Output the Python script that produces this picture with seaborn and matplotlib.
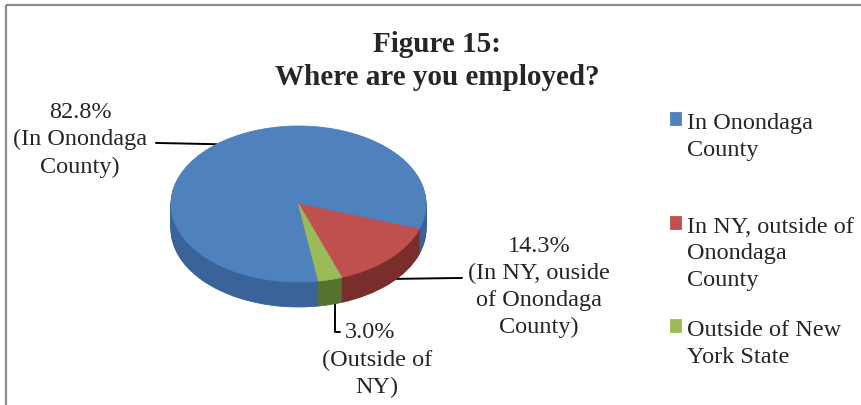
import numpy as np
import matplotlib
matplotlib.use("Agg")
import matplotlib.pyplot as plt
import seaborn as sns
from matplotlib.patches import Rectangle

sns.set_theme(style="white")
plt.rcParams['font.family'] = ['Liberation Serif', 'DejaVu Serif']

# data
categories = ['In Onondaga\nCounty\n', 'In NY, outside of\nOnondaga\nCounty', 'Outside of New\nYork State']
shares = [82.8, 14.3, 3.0]
pct_labels = ['82.8%', '14.3%', '3.0%']
slice_notes = ['(In Onondaga\nCounty)', '(In NY, ouside\nof Onondaga\nCounty)', '(Outside of\nNY)']
top_colors = ['#4f81bd', '#c0504d', '#9bbb59']
side_colors = ['#3a639a', '#7a2e2c', '#56732e']

W, H = 862, 406
fig = plt.figure(figsize=(W / 100, H / 100), dpi=100)

# full-figure axes in pixel units for frame and text placement
ax_bg = fig.add_axes([0, 0, 1, 1])
ax_bg.set_xlim(0, W)
ax_bg.set_ylim(H, 0)
ax_bg.axis('off')
ax_bg.add_patch(Rectangle((6, 6), 1000, 600, fill=False, ec='#8c8c8c', lw=1.6))

# pie axes: ellipse centre / radii in pixels
cx, cy, rx, ry = 298.5, 205, 127.5, 78
span = 1.5
pie_ax = fig.add_axes([(cx - span * rx) / W, (H - cy - span * ry) / H,
                       2 * span * rx / W, 2 * span * ry / H])
depth = 25 / ry
start = -81

# side of the 3D pie: stacked darker layers
for z in np.linspace(depth, 0, 30)[:-1]:
    w, _ = pie_ax.pie(shares, colors=side_colors, startangle=start, counterclock=False,
                      center=(0, -z), radius=1, wedgeprops=dict(linewidth=0.6))
    for p in w:
        p.set_edgecolor(p.get_facecolor())

top, _ = pie_ax.pie(shares, colors=top_colors, startangle=start, counterclock=False,
                    center=(0, 0), radius=1, wedgeprops=dict(linewidth=0.6))
for p in top:
    p.set_edgecolor(p.get_facecolor())

pie_ax.set_aspect('auto')
pie_ax.set_xlim(-span, span)
pie_ax.set_ylim(-span, span)
pie_ax.axis('off')

# title
ax_bg.text(437, 61, 'Figure 15:\nWhere are you employed?', ha='center', va='center',
           fontsize=21, fontweight='bold', linespacing=1.25)

# anchors at slice mid-angles
bounds = np.cumsum([0] + shares) / 100 * 360
mids = np.radians(start - (bounds[:-1] + bounds[1:]) / 2)
line_kw = dict(arrowstyle='-', color='black', lw=1.4, shrinkB=0)
ls = 1.36

# 82.8%
ax_bg.annotate(pct_labels[0] + '\n' + slice_notes[0],
               xy=(np.cos(mids[0]), np.sin(mids[0])), xycoords=pie_ax.transData,
               xytext=(80, 140), textcoords=ax_bg.transData,
               ha='center', va='center', fontsize=17.5, linespacing=ls,
               arrowprops=dict(**line_kw, shrinkA=4, relpos=(1, 0.45)))

# 14.3%
ax_bg.annotate(pct_labels[1] + '\n' + slice_notes[1],
               xy=(np.cos(mids[1]), np.sin(mids[1]) - 0.8 * depth), xycoords=pie_ax.transData,
               xytext=(539, 287), textcoords=ax_bg.transData,
               ha='center', va='center', fontsize=17.5, linespacing=ls,
               arrowprops=dict(**line_kw, shrinkA=2, relpos=(0, 0.58)))

# 3.0%
ax_bg.annotate(pct_labels[2],
               xy=(np.cos(mids[2]) + 0.04, np.sin(mids[2]) - 0.9 * depth), xycoords=pie_ax.transData,
               xytext=(345, 333), textcoords=ax_bg.transData,
               ha='left', va='center', fontsize=17.5,
               arrowprops=dict(**line_kw, shrinkA=1, relpos=(0, 0.5),
                               connectionstyle='angle,angleA=0,angleB=90,rad=0'))
ax_bg.text(377, 374, slice_notes[2], ha='center', va='center', fontsize=17.5, linespacing=ls)

# legend
leg = fig.legend(handles=top, labels=categories, loc='upper left',
                 bbox_to_anchor=(670 / W, 1 - 113 / H), frameon=False,
                 fontsize=17.5, handlelength=0.45, handleheight=0.45,
                 handletextpad=0.25, labelspacing=1.2, borderpad=0, borderaxespad=0)
for t in leg.get_texts():
    t.set_linespacing(ls)
for col in leg._legend_handle_box.get_children():
    for row in col.get_children():
        row.align = 'top'

fig.savefig('out.png', dpi=100)
